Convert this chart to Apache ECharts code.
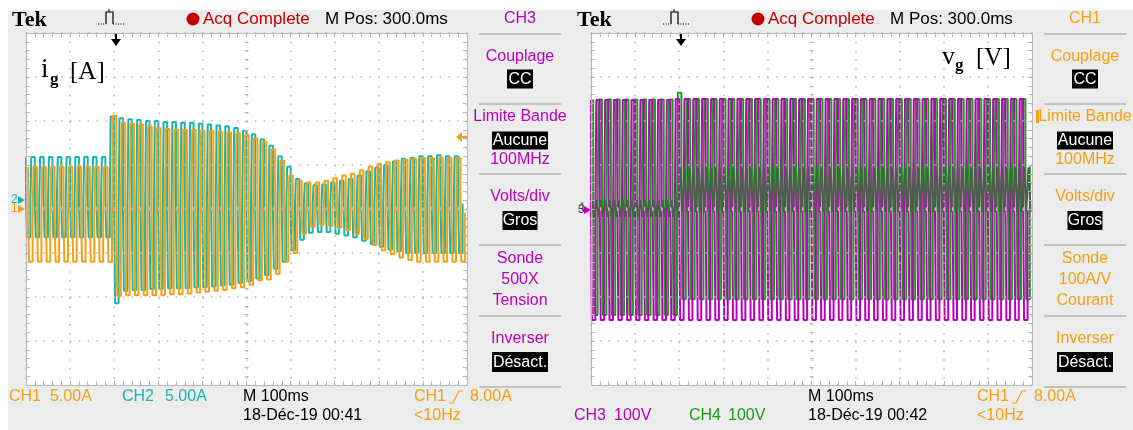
<!DOCTYPE html>
<html><head><meta charset="utf-8">
<script src="https://cdn.jsdelivr.net/npm/echarts/dist/echarts.min.js"></script>
<style>html,body{margin:0;padding:0;background:#fff}#c{width:1133px;height:430px}</style>
</head><body><div id="c"></div>
<script>
// ---------------- data ----------------
const CYCLE_MS = 20;                       // 50 Hz grid, one entry per cycle
const EDGE_MS = 2;                         // width of the stair on each edge of a cycle
const TIME_MIN = 0, TIME_MAX = 1000, TIME_STEP = 100;   // 100 ms/div
const AMP_MIN = -20, AMP_MAX = 20, AMP_STEP = 5;        // 5 A/div
const VOLT_MIN = -400, VOLT_MAX = 400, VOLT_STEP = 100; // 100 V/div

// Left screen: i_g [A]   CH2 (teal) and CH1 (orange), per-cycle peak / shelf / trough
const ch2Hi = [5.9,5.9,5.9,5.9,5.9,5.9,5.9,5.9,5.9,5.9,
  10.5,10.3,10.2,10.1,10.0,10.0,9.9,9.9,9.8,9.8,
  9.7,9.6,9.5,9.4,9.2,8.9,8.5,7.9,7.2,6.0,
  4.8,3.4,2.9,2.7,2.8,3.0,3.2,3.4,3.8,4.3,
  4.7,5.0,5.4,5.7,5.8,6.0,6.0,6.1,6.0,6.0];
const ch2Lo = [-3.2,-3.2,-3.2,-3.2,-3.2,-3.2,-3.2,-3.2,-3.2,-3.2,
  -10.7,-9.3,-9.2,-9.2,-9.1,-9.1,-9.0,-9.0,-9.0,-8.9,
  -8.9,-8.8,-8.7,-8.6,-8.4,-8.2,-7.9,-7.5,-6.8,-6.0,
  -4.7,-3.5,-2.7,-2.6,-2.6,-2.8,-3.0,-3.2,-3.6,-4.0,
  -4.3,-4.6,-4.8,-5.0,-5.0,-5.0,-5.0,-5.0,-5.0,-5.0];
const ch2Mid = [1.0,1.0,1.0,1.0,1.0,1.0,1.0,1.0,1.0,1.0,
  -0.5,-0.5,-0.5,-0.5,-0.5,-0.5,-0.5,-0.5,-0.5,-0.5,
  -0.5,-0.5,-0.5,-0.5,-0.5,-0.5,-0.5,-0.5,-0.5,-0.5,
  0.5,0.5,0.5,0.5,0.5,0.5,0.5,0.5,0.5,0.5,
  0.5,0.5,0.5,0.5,0.5,0.5,0.5,0.5,0.5,0.5];
const ch1Hi = [4.8,4.8,4.8,4.8,4.8,4.8,4.8,4.8,4.8,4.8,
  10.6,9.8,9.7,9.6,9.4,9.2,9.1,9.0,9.0,9.0,
  8.9,8.9,8.8,8.7,8.6,8.4,8.0,7.6,6.8,5.5,
  3.8,3.2,3.0,3.0,3.2,3.5,3.8,4.0,4.4,4.8,
  5.1,5.3,5.5,5.6,5.7,5.8,5.8,5.8,5.8,5.8];
const ch1Lo = [-6.0,-6.0,-6.0,-6.0,-6.0,-6.0,-6.0,-6.0,-6.0,-6.0,
  -9.9,-9.8,-9.8,-9.8,-9.8,-9.8,-9.7,-9.7,-9.6,-9.5,
  -9.4,-9.3,-9.2,-9.0,-8.9,-8.6,-8.1,-8.0,-7.4,-6.0,
  -5.0,-2.8,-2.0,-1.8,-1.9,-2.1,-2.4,-2.8,-3.4,-4.1,
  -4.7,-5.1,-5.5,-5.8,-6.0,-6.0,-6.0,-6.0,-6.0,-6.0];
const ch1Mid = [-1.0,-1.0,-1.0,-1.0,-1.0,-1.0,-1.0,-1.0,-1.0,-1.0,
  0,0,0,0,0,0,0,0,0,0,
  0,0,0,0,0,0,0,0,0,0,
  -0.5,-0.5,-0.5,-0.5,-0.5,-0.5,-0.5,-0.5,-0.5,-0.5,
  -0.5,-0.5,-0.5,-0.5,-0.5,-0.5,-0.5,-0.5,-0.5,-0.5];

// Right screen: v_g [V]   CH3 (magenta) and CH4 (green)
const ch3Hi = [248,248,248,248,248,248,248,248,248,248,
  250,250,250,250,250,250,250,250,250,250,
  250,250,250,250,250,250,250,250,250,250,
  250,250,250,250,250,250,250,250,250,250,
  250,250,250,250,250,250,250,250,250,250];
const ch3Lo = [-252,-252,-252,-252,-252,-252,-252,-252,-252,-252,
  -252,-252,-252,-252,-252,-252,-252,-252,-252,-252,
  -252,-252,-252,-252,-252,-252,-252,-252,-252,-252,
  -252,-252,-252,-252,-252,-252,-252,-252,-252,-252,
  -252,-252,-252,-252,-252,-252,-252,-252,-252,-252];
const ch3Mid = [-15,-15,-15,-15,-15,-15,-15,-15,-15,-15,
  -5,-5,-5,-5,-5,-5,-5,-5,-5,-5,
  -5,-5,-5,-5,-5,-5,-5,-5,-5,-5,
  -5,-5,-5,-5,-5,-5,-5,-5,-5,-5,
  -5,-5,-5,-5,-5,-5,-5,-5,-5,-5];
const ch4Hi = [249,249,249,249,249,249,249,249,249,249,
  264,250,250,250,250,250,250,250,250,250,
  250,250,250,250,250,250,250,250,250,250,
  250,250,250,250,250,250,250,250,250,250,
  250,250,250,250,250,250,250,250,250,250];
const ch4Lo = [-241,-241,-241,-241,-241,-241,-241,-241,-241,-241,
  -205,-205,-205,-205,-205,-205,-205,-205,-205,-205,
  -205,-205,-205,-205,-205,-205,-205,-205,-205,-205,
  -205,-205,-205,-205,-205,-205,-205,-205,-205,-205,
  -205,-205,-205,-205,-205,-205,-205,-205,-205,-205];
const ch4Mid = [15,15,15,15,15,15,15,15,15,15,
  95,95,95,95,95,95,95,95,95,95,
  95,95,95,95,95,95,95,95,95,95,
  95,95,95,95,95,95,95,95,95,95,
  95,95,95,95,95,95,95,95,95,95];
// dark band where CH3 and CH4 overlap on the screen
const overlapHi = [20,20,20,20,20,20,20,20,20,20,
  95,95,95,95,95,95,95,95,95,95,
  95,95,95,95,95,95,95,95,95,95,
  95,95,95,95,95,95,95,95,95,95,
  95,95,95,95,95,95,95,95,95,95];
const overlapLo = [-18,-18,-18,-18,-18,-18,-18,-18,-18,-18,
  -7,-7,-7,-7,-7,-7,-7,-7,-7,-7,
  -7,-7,-7,-7,-7,-7,-7,-7,-7,-7,
  -7,-7,-7,-7,-7,-7,-7,-7,-7,-7,
  -7,-7,-7,-7,-7,-7,-7,-7,-7,-7];

const phaseMs = { ch1: 5, ch2: 0, ch3: 0, ch4: 5, overlap: 2 };

// ---------------- styling ----------------
const ORANGE = '#f5a010', TEAL = '#18b4b0', MAGENTA = '#bb00bb', GREEN = '#14a014', RED = '#c40000', OVERLAP = '#4f5c4f';
const GC = '#b8b8b8';
const SANS = '"Liberation Sans", Arial, sans-serif';
const SERIF = '"Liberation Serif", "Times New Roman", serif';

// one cycle: falling edge hi -> shelf(mid) -> lo, rising edge lo -> shelf(mid) -> hi
function trace(hi, mid, lo, phase) {
  const pts = [];
  for (let k = 0; k < hi.length; k++) {
    const t = k * CYCLE_MS + phase;
    pts.push([t, hi[k]], [t + EDGE_MS, mid[k]], [t + CYCLE_MS / 2, lo[k]], [t + CYCLE_MS / 2 + EDGE_MS, mid[k]]);
  }
  return pts;
}
function band(hi, lo, phase) {
  const pts = [];
  for (let k = 0; k < hi.length; k++) {
    const t = k * CYCLE_MS + phase;
    pts.push([t, hi[k]], [t + CYCLE_MS / 4, lo[k]], [t + CYCLE_MS / 2, hi[k]], [t + 3 * CYCLE_MS / 4, lo[k]]);
  }
  return pts;
}

const tickStyle = { color: GC, width: 1 };
function xAxes(g) {
  const base = { gridIndex: g, type: 'value', min: TIME_MIN, max: TIME_MAX, interval: TIME_STEP, z: 3,
    axisLabel: { show: false }, axisLine: { show: true, onZero: false, lineStyle: { color: GC, width: 1 } },
    axisTick: { show: true, inside: true, length: 4, lineStyle: tickStyle },
    minorTick: { show: true, splitNumber: 5, length: 4, lineStyle: tickStyle },
    splitLine: { show: false } };
  return [
    Object.assign({}, base, { position: 'bottom', splitLine: { show: true, lineStyle: { color: GC, width: 1.5, type: [1.5, 7.32] } } }),
    Object.assign({}, base, { position: 'top' }),
    Object.assign({}, base, { position: 'bottom', offset: -174, axisLine: { show: false, onZero: false } })
  ];
}
function yAxes(g, min, max, step) {
  const base = { gridIndex: g, type: 'value', min: min, max: max, interval: step, z: 3,
    axisLabel: { show: false }, axisLine: { show: true, onZero: false, lineStyle: { color: GC, width: 1 } },
    axisTick: { show: true, inside: true, length: 4, lineStyle: tickStyle },
    minorTick: { show: true, splitNumber: 5, length: 4, lineStyle: tickStyle },
    splitLine: { show: false } };
  return [
    Object.assign({}, base, { position: 'left', splitLine: { show: true, lineStyle: { color: GC, width: 1.5, type: [1.5, 7.3] } } }),
    Object.assign({}, base, { position: 'right' }),
    Object.assign({}, base, { position: 'left', offset: -218.5, axisLine: { show: false, onZero: false } })
  ];
}

function lineSeries(name, data, color, xi, yi, width, step) {
  return { name: name, type: 'line', data: data, xAxisIndex: xi, yAxisIndex: yi, step: step || false,
    showSymbol: false, symbol: 'none', animation: false, clip: true, z: 2,
    lineStyle: { color: color, width: width || 2 }, itemStyle: { color: color } };
}

// ---------------- graphic helpers ----------------
function txt(x, y, s, color, font, align) {
  return { type: 'text', z: 100, silent: true,
    style: { x: x, y: y, text: s, fill: color, font: font, textAlign: align || 'left', textVerticalAlign: 'middle',
      align: align || 'left', verticalAlign: 'middle' } };
}
function box(cx, cy, w, h, s) {
  return [
    { type: 'rect', z: 99, silent: true, shape: { x: cx - w / 2, y: cy - h / 2, width: w, height: h }, style: { fill: '#000' } },
    txt(cx, cy + 0.5, s, '#fff', '16px ' + SANS, 'center')
  ];
}
function hline(x1, x2, y, color, w) {
  return { type: 'line', z: 98, silent: true, shape: { x1: x1, y1: y, x2: x2, y2: y }, style: { stroke: color, lineWidth: w } };
}
function poly(points, color, w, dash) {
  return { type: 'polyline', z: 100, silent: true, shape: { points: points }, style: { stroke: color, lineWidth: w, fill: null, lineDash: dash || null } };
}
function tri(points, color) {
  return { type: 'polygon', z: 100, silent: true, shape: { points: points }, style: { fill: color } };
}

function header(dx, title, titleColor) {
  const F = '17px ' + SANS;
  return [
    txt(12 + dx, 20, 'Tek', '#000', 'bold 22px ' + SERIF),
    poly([[98 + dx, 24], [106 + dx, 24]], '#000', 1, [1, 1.5]),
    poly([[106 + dx, 24], [106 + dx, 12], [113 + dx, 12], [113 + dx, 24]], '#000', 1.2),
    poly([[109 + dx, 12], [109 + dx, 9]], '#000', 1),
    poly([[113 + dx, 24], [124 + dx, 24]], '#000', 1, [1, 1.5]),
    { type: 'circle', z: 100, silent: true, shape: { cx: 193 + dx, cy: 19, r: 6.5 }, style: { fill: RED } },
    txt(203 + dx, 19, 'Acq Complete', RED, F),
    txt(325 + dx, 19, 'M Pos: 300.0ms', '#000', F),
    txt(520 + dx, 19, title, titleColor, '16px ' + SANS, 'center'),
    poly([[116 + dx, 34], [116 + dx, 40]], '#000', 2),
    tri([[111 + dx, 39], [121 + dx, 39], [116 + dx, 46]], '#000')
  ];
}

function menu(cx, color, sonde1, sonde2) {
  const F = '16px ' + SANS;
  let els = [];
  [34, 104, 174, 245, 316, 387].forEach(function (y) { els.push(hline(cx - 41, cx + 41, y, '#b4b4b4', 1.5)); });
  els.push(txt(cx, 57, 'Couplage', color, F, 'center'));
  els = els.concat(box(cx, 79, 26, 19, 'CC'));
  els.push(txt(cx, 117, 'Limite Bande', color, F, 'center'));
  els = els.concat(box(cx, 140.5, 56, 18, 'Aucune'));
  els.push(txt(cx, 160, '100MHz', color, F, 'center'));
  els.push(txt(cx, 197, 'Volts/div', color, F, 'center'));
  els = els.concat(box(cx, 220.5, 35, 19, 'Gros'));
  els.push(txt(cx, 259, 'Sonde', color, F, 'center'));
  els.push(txt(cx, 280, sonde1, color, F, 'center'));
  els.push(txt(cx, 301, sonde2, color, F, 'center'));
  els.push(txt(cx, 339, 'Inverser', color, F, 'center'));
  els = els.concat(box(cx, 362, 56, 20, 'Désact.'));
  return els;
}

function slope(x) {
  return poly([[x, 403], [x + 4, 403], [x + 10, 391], [x + 14, 391]], ORANGE, 1.2);
}

const BF = '16px ' + SANS;
let graphics = [
  { type: 'rect', z: -100, silent: true, shape: { x: 8, y: 10, width: 1125, height: 420 }, style: { fill: '#ececec' } }
];
graphics = graphics
  .concat(header(0, 'CH3', MAGENTA))
  .concat(header(565, 'CH1', ORANGE))
  .concat(menu(520, MAGENTA, '500X', 'Tension'))
  .concat(menu(1085, ORANGE, '100A/V', 'Courant'))
  .concat([
    txt(41, 70, 'i', '#000', '27px ' + SERIF),
    txt(50, 80, 'g', '#000', 'bold 17px ' + SERIF),
    txt(70, 72, '[A]', '#000', '25px ' + SERIF),
    txt(942, 57, 'v', '#000', '26px ' + SERIF),
    txt(955, 66, 'g', '#000', 'bold 17px ' + SERIF),
    txt(976, 58, '[V]', '#000', '25px ' + SERIF),
    txt(11, 200, '2', TEAL, '12px ' + SANS),
    tri([[18, 196], [25, 200], [18, 204]], TEAL),
    txt(11, 209, '1', ORANGE, '12px ' + SANS),
    tri([[18, 205], [25, 209], [18, 213]], ORANGE),
    txt(578, 208, '4', GREEN, '12px ' + SANS),
    txt(578, 210, '3', MAGENTA, '12px ' + SANS),
    tri([[584, 206], [591, 210], [584, 214]], MAGENTA),
    tri([[456, 137], [462, 132], [462, 142]], ORANGE),
    poly([[461, 137], [467, 137]], ORANGE, 2),
    { type: 'rect', z: 100, silent: true, shape: { x: 1036, y: 110, width: 3, height: 13 }, style: { fill: ORANGE } },
    txt(9, 397, 'CH1', ORANGE, BF), txt(50, 397, '5.00A', ORANGE, BF),
    txt(122, 397, 'CH2', TEAL, BF), txt(165, 397, '5.00A', TEAL, BF),
    txt(243, 397, 'M 100ms', '#000', BF),
    txt(243, 416, '18-Déc-19 00:41', '#000', BF),
    txt(414, 397, 'CH1', ORANGE, BF), slope(449), txt(470, 397, '8.00A', ORANGE, BF),
    txt(414, 416, '<10Hz', ORANGE, BF),
    txt(808, 397, 'M 100ms', '#000', BF),
    txt(977, 397, 'CH1', ORANGE, BF), slope(1012), txt(1034, 397, '8.00A', ORANGE, BF),
    txt(574, 416, 'CH3', MAGENTA, BF), txt(614, 416, '100V', MAGENTA, BF),
    txt(689, 416, 'CH4', GREEN, BF), txt(728, 416, '100V', GREEN, BF),
    txt(808, 416, '18-Déc-19 00:42', '#000', BF),
    txt(977, 416, '<10Hz', ORANGE, BF)
  ]);

const chart = echarts.init(document.getElementById('c'), null, { renderer: 'canvas' });
chart.setOption({
  animation: false,
  backgroundColor: '#ffffff',
  grid: [
    { left: 26, top: 33, width: 441, height: 352, show: true, backgroundColor: '#ffffff', borderWidth: 0, containLabel: false },
    { left: 591, top: 33, width: 441, height: 352, show: true, backgroundColor: '#ffffff', borderWidth: 0, containLabel: false }
  ],
  xAxis: xAxes(0).concat(xAxes(1)),
  yAxis: yAxes(0, AMP_MIN, AMP_MAX, AMP_STEP).concat(yAxes(1, VOLT_MIN, VOLT_MAX, VOLT_STEP)),
  series: [
    lineSeries('CH2', trace(ch2Hi, ch2Mid, ch2Lo, phaseMs.ch2), TEAL, 0, 0, 2, 'start'),
    lineSeries('CH1', trace(ch1Hi, ch1Mid, ch1Lo, phaseMs.ch1), ORANGE, 0, 0, 2, 'start'),
    lineSeries('CH4', trace(ch4Hi, ch4Mid, ch4Lo, phaseMs.ch4), GREEN, 3, 3, 2, 'start'),
    lineSeries('CH3', trace(ch3Hi, ch3Mid, ch3Lo, phaseMs.ch3), MAGENTA, 3, 3, 2, 'start'),
    lineSeries('CH3/CH4 overlap', band(overlapHi, overlapLo, phaseMs.overlap), OVERLAP, 3, 3, 2)
  ],
  graphic: { elements: graphics }
});
</script>
</body></html>
